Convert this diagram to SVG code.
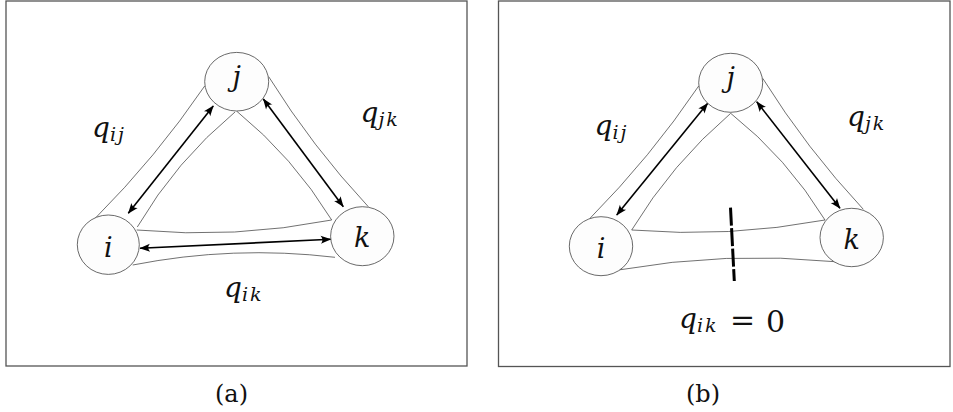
<svg xmlns="http://www.w3.org/2000/svg" width="953" height="412" viewBox="0 0 953 412">
<style>
text{font-family:'DejaVu Serif',serif;fill:#111}
.frame{fill:none;stroke:#555;stroke-width:1.3}
.tube{fill:none;stroke:#333;stroke-width:0.7}
.node{fill:#fdfdfd;stroke:#444;stroke-width:0.8}
.arr{fill:none;stroke:#000;stroke-width:1.6;marker-start:url(#ah);marker-end:url(#ah)}
.nt{font-style:italic;font-size:27px;text-anchor:middle}
.lbl{font-style:italic;font-size:28px}
.sub{font-size:19px;letter-spacing:2px}
.up{font-size:30px}
.cap{font-size:24px;text-anchor:middle}
.cut{fill:none;stroke:#000;stroke-width:3;stroke-dasharray:18 2.5}
</style>
<defs>
<marker id="ah" viewBox="-11 -5 12 10" refX="0" refY="0" markerWidth="12" markerHeight="10" markerUnits="userSpaceOnUse" orient="auto-start-reverse">
<path d="M0.5,0 L-10,-4 Q-6.5,0 -10,4 Z" fill="#000"/>
</marker>
</defs>
<rect width="953" height="412" fill="#fff"/>
<rect class="frame" x="6" y="1" width="461" height="365"/>
<rect class="frame" x="498.5" y="1" width="451.5" height="365.5"/>

<g id="connectors">
<path class="tube" d="M95,218.5 Q156,157.4 204.7,86"/>
<path class="tube" d="M137.3,227 Q176,161 235,112"/>
<path class="tube" d="M268.7,76.7 Q312.2,146.6 368.3,206.7"/>
<path class="tube" d="M236.5,111 Q293,157 331.7,220"/>
<path class="tube" d="M136.7,230 Q234.9,239 331.7,220"/>
<path class="tube" d="M132.7,265 Q233.5,245.2 335,257.3"/>
<line class="arr" x1="128.3" y1="213.3" x2="213.3" y2="106"/>
<line class="arr" x1="263.3" y1="99" x2="343.3" y2="206.7"/>
<line class="arr" x1="140" y1="248.3" x2="330.7" y2="239.3"/>
<path class="tube" d="M590,218.3 Q650.5,157.2 698.7,86"/>
<path class="tube" d="M631.7,230 Q672,163.5 730.7,113.3"/>
<path class="tube" d="M730.7,113.3 Q787,158 825,220"/>
<path class="tube" d="M762.7,78.3 Q806.7,148.7 863.3,209.3"/>
<path class="tube" d="M631.7,230 Q729,238 825,220"/>
<path class="tube" d="M618.3,270 Q726,251 835,261.7"/>
<line class="arr" x1="616.7" y1="215" x2="707.7" y2="103.3"/>
<line class="arr" x1="756.7" y1="101.7" x2="840" y2="208.3"/>
<line class="cut" x1="730.5" y1="207.7" x2="734.3" y2="281"/>
</g>

<g id="a_j"><ellipse class="node" cx="236.7" cy="81.7" rx="32" ry="29.3"/><text class="nt" x="236.7" y="86">j</text></g>
<g id="a_i"><ellipse class="node" cx="108.3" cy="244.7" rx="31" ry="29.7"/><text class="nt" x="108.3" y="256.5">i</text></g>
<g id="a_k"><ellipse class="node" cx="362.3" cy="236.2" rx="31.7" ry="29.5"/><text class="nt" x="362.3" y="247">k</text></g>
<g id="b_j"><ellipse class="node" cx="730.7" cy="82.8" rx="32" ry="29.5"/><text class="nt" x="730.7" y="87">j</text></g>
<g id="b_i"><ellipse class="node" cx="601" cy="246.2" rx="31.7" ry="29.5"/><text class="nt" x="601" y="258">i</text></g>
<g id="b_k"><ellipse class="node" cx="851.7" cy="237.5" rx="31.7" ry="29.2"/><text class="nt" x="851.7" y="248.5">k</text></g>
<g id="labels">
<text class="lbl" x="92" y="137">q<tspan class="sub" dy="4">ij</tspan></text>
<text class="lbl" x="360.5" y="122">q<tspan class="sub" dy="4">jk</tspan></text>
<text class="lbl" x="224" y="297">q<tspan class="sub" dy="4">ik</tspan></text>
<text class="lbl" x="594.5" y="135">q<tspan class="sub" dy="4">ij</tspan></text>
<text class="lbl" x="847" y="126">q<tspan class="sub" dy="4">jk</tspan></text>
<text class="lbl" x="679" y="328">q<tspan class="sub" dy="4">ik</tspan></text>
<text class="up" x="730" y="330">=</text>
<text class="up" x="766" y="331.5">0</text>
<text class="cap" x="231.5" y="402">(a)</text>
<text class="cap" x="703" y="402">(b)</text>
</g>
</svg>
